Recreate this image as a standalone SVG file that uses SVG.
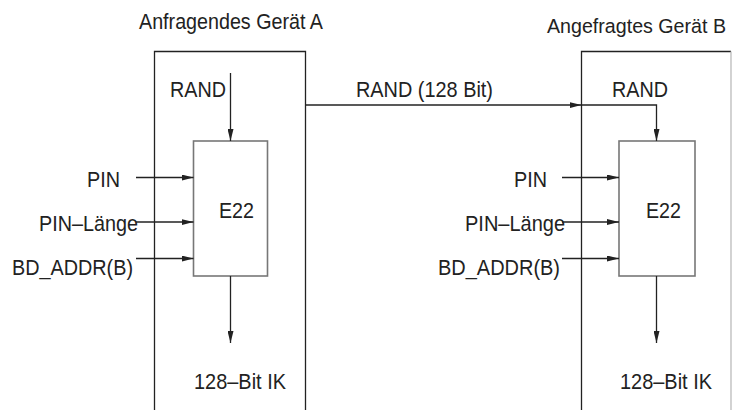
<svg xmlns="http://www.w3.org/2000/svg" width="732" height="410" viewBox="0 0 732 410">
<style>
text{font-family:"Liberation Sans",Arial,sans-serif;font-size:21.5px;fill:#222}
.dev{fill:none;stroke:#222;stroke-width:1.3}
.fn{fill:#fff;stroke:#777;stroke-width:1.6}
.c{fill:none;stroke:#222;stroke-width:1.3}
</style>
<defs>
<marker id="ah" viewBox="0 0 12 6" refX="12" refY="3" markerWidth="12" markerHeight="6" markerUnits="userSpaceOnUse" orient="auto">
<path d="M0,0 L12,3 L0,6 Z" fill="#222"/>
</marker>
</defs>
<rect width="732" height="410" fill="#fff"/>
<g id="deviceA">
<path class="dev" d="M154.5,411 V51.5 H305.5 V411"/>
<text x="139" y="28.5" textLength="184" lengthAdjust="spacingAndGlyphs">Anfragendes Gerät A</text>
</g>
<g id="deviceB">
<path class="dev" d="M581.5,411 V51.5 H731"/>
<path d="M731,51.5 V411" fill="none" stroke="#bbb" stroke-width="1.3"/>
<text x="547" y="32.5" style="font-size:19.7px" textLength="179" lengthAdjust="spacingAndGlyphs">Angefragtes Gerät B</text>
</g>
<g id="e22A">
<rect class="fn" x="193.5" y="141" width="74" height="135"/>
<text x="219" y="218" textLength="35" lengthAdjust="spacingAndGlyphs">E22</text>
</g>
<g id="e22B">
<rect class="fn" x="619" y="141" width="76" height="135"/>
<text x="646" y="218" textLength="35" lengthAdjust="spacingAndGlyphs">E22</text>
</g>
<g id="labels">
<text x="170" y="97" textLength="56" lengthAdjust="spacingAndGlyphs">RAND</text>
<text x="87" y="186.5" textLength="33" lengthAdjust="spacingAndGlyphs">PIN</text>
<text x="39" y="231" textLength="99" lengthAdjust="spacingAndGlyphs">PIN–Länge</text>
<text x="12" y="275" textLength="121" lengthAdjust="spacingAndGlyphs">BD_ADDR(B)</text>
<text x="194" y="389" textLength="92" lengthAdjust="spacingAndGlyphs">128–Bit IK</text>
<text x="356" y="96.5" textLength="137" lengthAdjust="spacingAndGlyphs">RAND (128 Bit)</text>
<text x="612" y="96.5" textLength="56" lengthAdjust="spacingAndGlyphs">RAND</text>
<text x="514" y="186.5" textLength="33" lengthAdjust="spacingAndGlyphs">PIN</text>
<text x="465" y="231" textLength="100" lengthAdjust="spacingAndGlyphs">PIN–Länge</text>
<text x="438" y="275" textLength="122" lengthAdjust="spacingAndGlyphs">BD_ADDR(B)</text>
<text x="620" y="389" textLength="92" lengthAdjust="spacingAndGlyphs">128–Bit IK</text>
</g>
<g id="connectors">
<path class="c" d="M230.5,73 V141" marker-end="url(#ah)"/>
<path class="c" d="M136,177.5 H193.5" marker-end="url(#ah)"/>
<path class="c" d="M136,222 H193.5" marker-end="url(#ah)"/>
<path class="c" d="M136,258.5 H193.5" marker-end="url(#ah)"/>
<path class="c" d="M230.5,276 V343" marker-end="url(#ah)"/>
<path class="c" d="M305.5,105 H581.5" marker-end="url(#ah)"/>
<path class="c" d="M581.5,105 H656.5 V141" marker-end="url(#ah)"/>
<path class="c" d="M562,177.5 H619" marker-end="url(#ah)"/>
<path class="c" d="M562,222 H619" marker-end="url(#ah)"/>
<path class="c" d="M562,258.5 H619" marker-end="url(#ah)"/>
<path class="c" d="M656.5,276 V343" marker-end="url(#ah)"/>
</g>
</svg>
